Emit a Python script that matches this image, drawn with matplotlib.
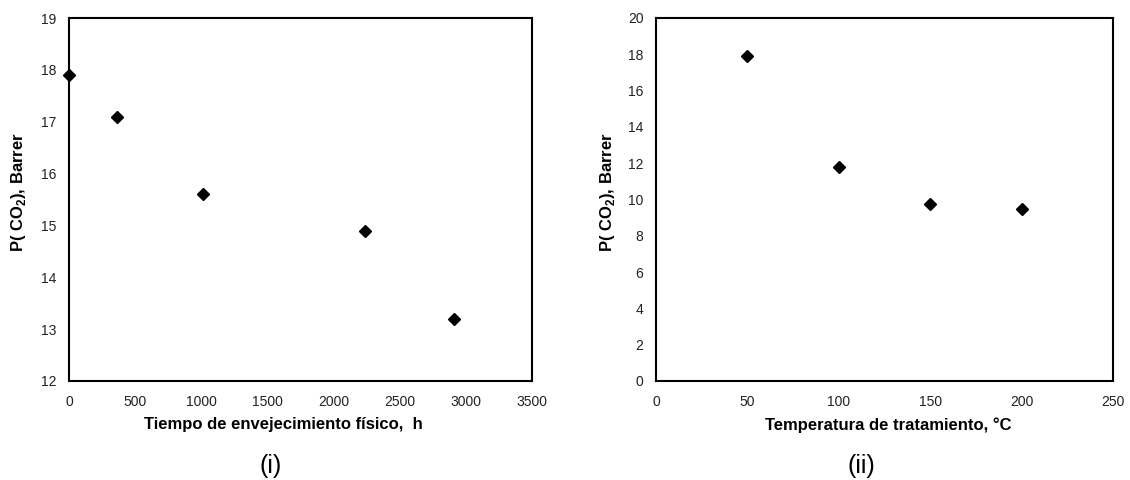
import matplotlib
matplotlib.use("Agg")
import matplotlib.pyplot as plt

plt.rcParams['font.family'] = ['Liberation Sans', 'DejaVu Sans']
plt.rcParams['mathtext.fontset'] = 'custom'
plt.rcParams['mathtext.rm'] = 'Liberation Sans'
plt.rcParams['mathtext.bf'] = 'Liberation Sans:bold'

# Panel (i)
aging_time_h = [0, 363, 1010, 2238, 2908]
perm_aging = [17.9, 17.1, 15.6, 14.9, 13.2]
# Panel (ii)
treat_temp_C = [50, 100, 150, 200]
perm_temp = [17.9, 11.8, 9.75, 9.5]

xticks_i = [0, 500, 1000, 1500, 2000, 2500, 3000, 3500]
yticks_i = [12, 13, 14, 15, 16, 17, 18, 19]
xticks_ii = [0, 50, 100, 150, 200, 250]
yticks_ii = [0, 2, 4, 6, 8, 10, 12, 14, 16, 18, 20]

W, H = 1130, 480
fig = plt.figure(figsize=(11.3, 4.8), dpi=100)
ax1 = fig.add_axes([69 / W, 1 - 381 / H, 463 / W, 363 / H])
ax2 = fig.add_axes([656 / W, 1 - 381 / H, 457 / W, 363 / H])

ylab = r"P( CO$_{\mathbf{2}}$), Barrer"

def style(ax, xt, yt, xlabel, panel, xl_x, yl_x, panel_x):
    ax.set_xticks(xt)
    ax.set_yticks(yt)
    ax.set_xlim(xt[0], xt[-1])
    ax.set_ylim(yt[0], yt[-1])
    ax.tick_params(length=0, labelsize=10, colors='#222222')
    ax.tick_params(axis='x', pad=10)
    ax.tick_params(axis='y', pad=9)
    for s in ax.spines.values():
        s.set_linewidth(1.5)
        s.set_color('black')
    ax.set_xlabel(xlabel, fontsize=12, fontweight='bold')
    ax.xaxis.label.set_va('center')
    ax.xaxis.set_label_coords(xl_x, -0.1212)
    ax.set_ylabel(ylab, fontsize=12, fontweight='bold')
    ax.yaxis.label.set_va('center')
    ax.yaxis.set_label_coords(yl_x, 0.5207)
    fig.text(panel_x / W, 1 - 466 / H, panel, ha='center', va='center', fontsize=18)

ax1.plot(aging_time_h, perm_aging, linestyle='none', marker='D', markersize=6.5, color='black', clip_on=False, zorder=5)
ax2.plot(treat_temp_C, perm_temp, linestyle='none', marker='D', markersize=6.5, color='black', clip_on=False, zorder=5)

style(ax1, xticks_i, yticks_i, "Tiempo de envejecimiento físico,  h", "(i)", 0.462, -0.108, 271)
style(ax2, xticks_ii, yticks_ii, "Temperatura de tratamiento, °C", "(ii)", 0.5077, -0.1072, 861)

fig.savefig("out.png", dpi=100)
